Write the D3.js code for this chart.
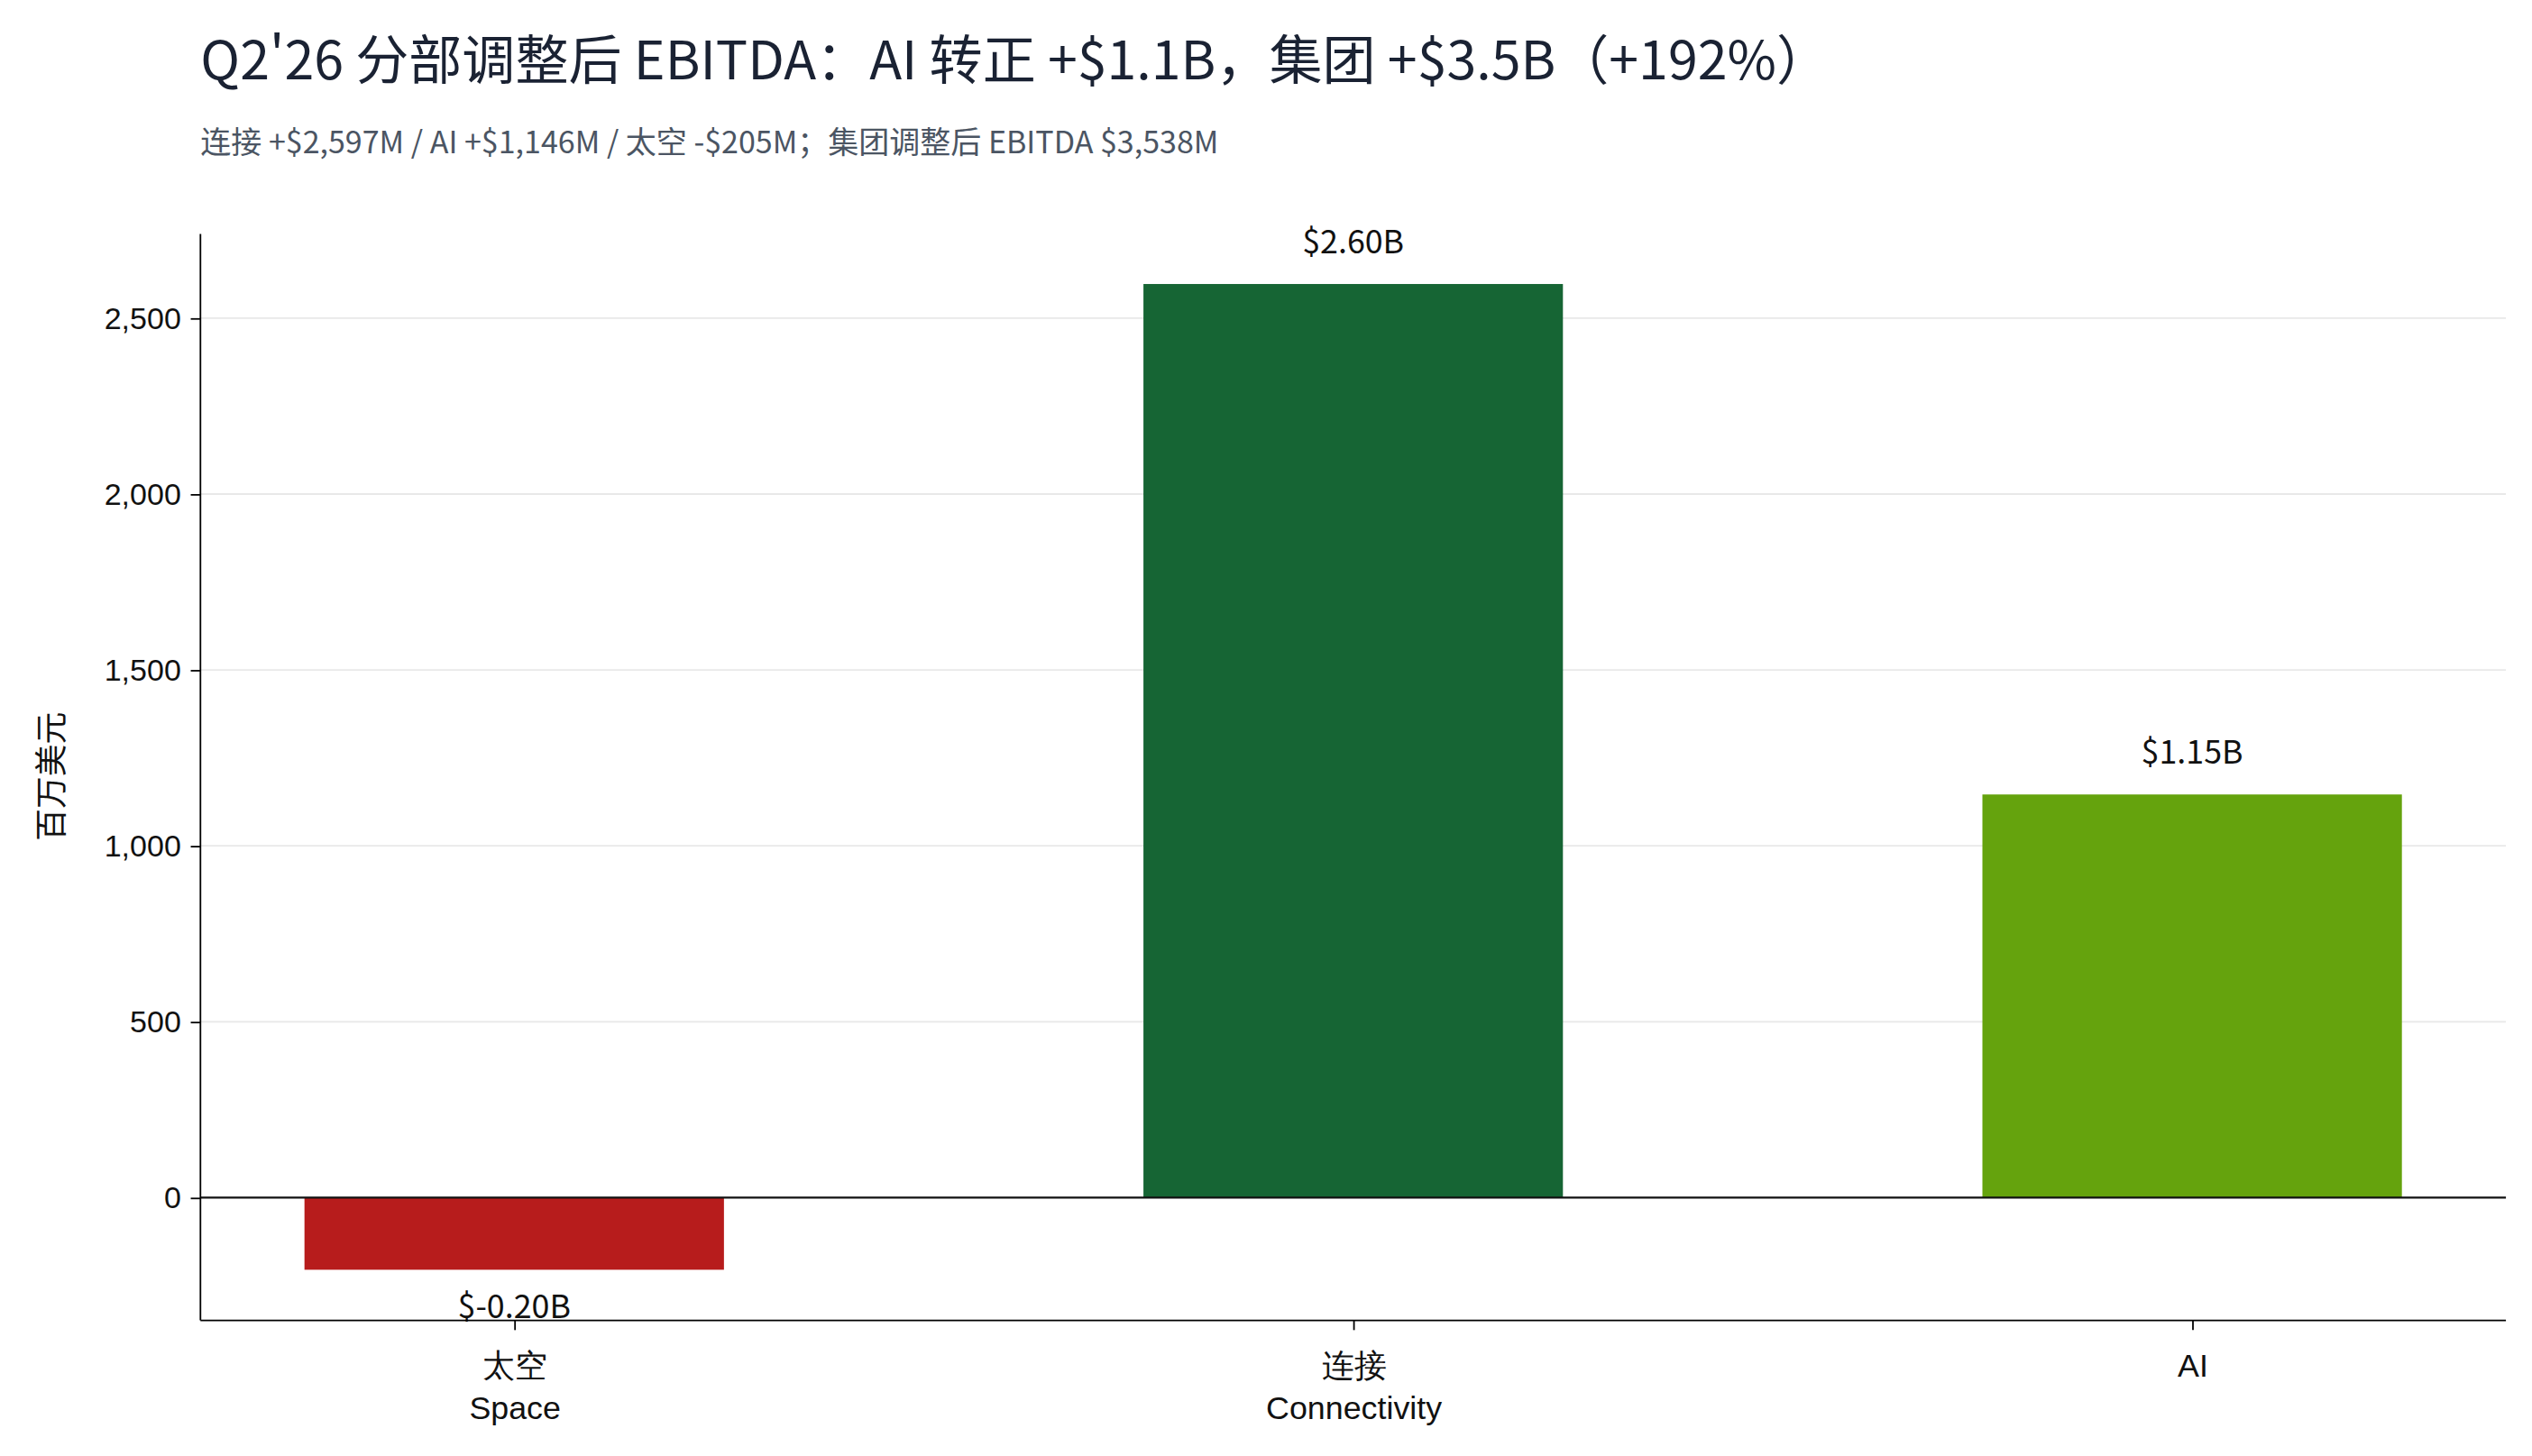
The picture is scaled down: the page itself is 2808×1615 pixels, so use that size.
<!doctype html>
<html lang="zh">
<head>
<meta charset="utf-8">
<title>Q2'26 分部调整后 EBITDA</title>
<script src="https://cdn.jsdelivr.net/npm/d3@7"></script>
<style>
  html, body { margin: 0; padding: 0; background: #fff; }
  svg { display: block; font-family: "Noto Sans CJK SC", "Noto Sans", sans-serif; }
</style>
</head>
<body>
<svg id="chart" width="2808" height="1615" viewBox="0 0 1568 902"></svg>
<script>
// data
var segments = ["太空\nSpace", "连接\nConnectivity", "AI"];
var ebitda = [-205, 2597, 1146];
var valueLabels = ["$-0.20B", "$2.60B", "$1.15B"];
var barColors = ["#b71c1c", "#166534", "#65a30d"];
var yTicks = [0, 500, 1000, 1500, 2000, 2500];

var svg = d3.select("#chart");
var m = { left: 124, right: 1552, top: 145, bottom: 818 };

var x = d3.scalePoint().domain(segments).range([m.left, m.right]).padding(0.374);
var bw = x.step() * 0.5;
var y = d3.scaleLinear().domain([-349, 2739]).range([m.bottom, m.top]);

svg.append("text").attr("x", 124).attr("y", 49)
  .attr("font-size", 33).attr("fill", "#1a2233")
  .text("Q2'26 分部调整后 EBITDA：AI 转正 +$1.1B，集团 +$3.5B（+192%）");
svg.append("text").attr("x", 124).attr("y", 95)
  .attr("font-size", 19).attr("fill", "#4b5563")
  .text("连接 +$2,597M / AI +$1,146M / 太空 -$205M；集团调整后 EBITDA $3,538M");

// grid
svg.append("g").selectAll("line").data(yTicks.filter(d => d !== 0)).join("line")
  .attr("x1", m.left).attr("x2", m.right)
  .attr("y1", d => y(d)).attr("y2", d => y(d))
  .attr("stroke", "#e8e8e8").attr("stroke-width", 1);

// bars
svg.append("g").selectAll("rect").data(segments).join("rect")
  .attr("x", d => x(d) - bw / 2).attr("width", bw)
  .attr("y", (d, i) => y(Math.max(0, ebitda[i])))
  .attr("height", (d, i) => Math.abs(y(ebitda[i]) - y(0)))
  .attr("fill", (d, i) => barColors[i]);

// zero line
svg.append("line").attr("x1", m.left).attr("x2", m.right)
  .attr("y1", y(0)).attr("y2", y(0)).attr("stroke", "#111").attr("stroke-width", 1.2);

// value labels
svg.append("g").selectAll("text").data(segments).join("text")
  .attr("x", d => x(d)).attr("text-anchor", "middle")
  .attr("y", (d, i) => ebitda[i] >= 0 ? y(ebitda[i]) - 19 : y(ebitda[i]) + 30)
  .attr("font-size", 20).attr("fill", "#111")
  .text((d, i) => valueLabels[i]);

// y axis
var ya = svg.append("g").attr("transform", "translate(" + m.left + ",0)")
  .call(d3.axisLeft(y).tickValues(yTicks).tickSize(6).tickPadding(6));
ya.select(".domain").attr("d", "M0," + m.top + "V" + m.bottom);
ya.selectAll("text").attr("font-size", 19).attr("fill", "#111").style("font-family", "inherit");

// x axis
var xa = svg.append("g").attr("transform", "translate(0," + m.bottom + ")")
  .call(d3.axisBottom(x).tickSize(6).tickFormat(""));
xa.select(".domain").attr("d", "M" + m.left + ",0H" + m.right);
xa.selectAll(".tick").each(function(d) {
  var t = d3.select(this).append("text").attr("text-anchor", "middle")
    .attr("font-size", 20).attr("fill", "#111");
  d.split("\n").forEach(function(s, k) {
    t.append("tspan").attr("x", 0).attr("y", 35 + k * 26).text(s);
  });
});

svg.append("text").attr("transform", "translate(39,481) rotate(-90)")
  .attr("text-anchor", "middle").attr("font-size", 20).attr("fill", "#111")
  .text("百万美元");
</script>
</body>
</html>
